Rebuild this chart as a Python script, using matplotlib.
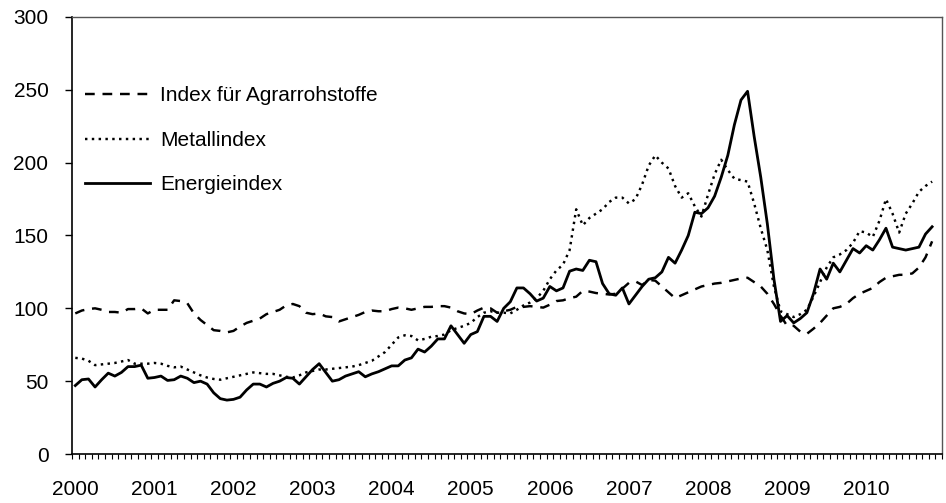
import numpy as np
import matplotlib
matplotlib.use("Agg")
import matplotlib.pyplot as plt

plt.rcParams['font.family'] = ['Liberation Sans', 'DejaVu Sans']

# Monatswerte Jan 2000 - Nov 2010
years = ['2000', '2001', '2002', '2003', '2004', '2005', '2006', '2007', '2008', '2009', '2010']

agrar = [96.5, 98.5, 99.5, 100, 99, 97.5, 97.5, 97, 99.5, 99.5, 100, 96.5,
         99, 99, 99, 105.5, 105, 103.5, 96.5, 92, 88.5, 85, 84.5, 83.5,
         84.5, 87.5, 90, 91.5, 93, 96, 97.5, 99, 102, 103, 101.5, 97,
         96, 96.5, 94.5, 94, 91, 92.5, 94, 95.5, 97.5, 98.5, 98, 98,
         99.5, 100.5, 100, 99, 100, 101, 101, 101.5, 101.5, 100.5, 98, 96.5,
         96, 98.5, 100.5, 100, 97, 98, 99, 101, 101, 101.5, 101, 100.5,
         102.5, 105, 105.5, 107, 108, 112, 111.5, 110.5, 110, 109.5, 110, 113.5,
         117.5, 118.5, 116, 119.5, 119, 115, 111, 107, 109, 111, 113, 115,
         116, 117, 117.5, 118.5, 119.5, 120.5, 121, 118, 115, 110, 103, 95,
         88, 88, 84, 82.5, 86, 90, 95, 100, 101, 103, 107, 110,
         112, 114, 118, 121, 122, 123, 123, 124, 128, 135, 146]

metall = [66, 65.5, 64, 61, 61.5, 62, 62.5, 63.5, 64.5, 62, 62, 62,
          62.5, 62, 60.5, 59.5, 60, 58, 56, 54, 52.5, 51.5, 51, 52,
          53, 54, 55, 56, 55.5, 55, 55, 54, 53, 52.5, 54, 56,
          57, 58, 58, 58.5, 59, 59.5, 60, 61, 62.5, 64, 67, 70,
          75, 80, 81.5, 81, 78, 79, 80.5, 81, 82, 85, 86.5, 88,
          90, 94, 97, 98, 97, 97, 96.5, 99, 102, 104, 107, 112,
          120, 126, 130, 140, 168, 157, 162, 165, 168, 173, 176, 176,
          172, 175, 185, 198, 205, 200, 196, 184, 176, 179, 170, 163,
          178, 192, 202, 195, 189, 188, 187, 172, 155, 140, 115, 98,
          96, 94, 96, 99, 108, 118, 128, 135, 137, 140, 145, 153,
          152, 149, 160, 175, 165, 152, 165, 172, 180, 184, 187]

energie = [47, 51, 51.5, 46, 51, 55.5, 53.5, 56, 60, 60, 61, 52,
           52.5, 53.5, 50.5, 51, 53.5, 52, 49, 50, 48, 42, 38, 37,
           37.5, 39, 44, 48, 48, 46, 48.5, 50, 52.5, 52, 48, 53,
           58, 62, 56, 50, 51, 53.5, 55, 56.5, 53, 55, 56.5, 58.5,
           60.5, 60.5, 64.5, 66, 72, 70, 74, 79, 79, 88, 82, 76,
           82, 84, 94.5, 94.5, 91, 100, 104.5, 114, 114, 110, 105, 107,
           115, 112, 114, 125.5, 127, 126, 133, 132, 117, 110, 109, 114,
           103, 109, 115, 120, 121, 125, 135, 131, 140, 150, 166, 165,
           169, 177, 190, 205, 226, 243, 249, 218, 190, 158, 120, 91,
           95, 90, 93, 97, 110, 127, 120, 131, 125, 133, 141, 138,
           143, 140, 147, 155, 142, 141, 140, 141, 142, 151, 156]

x = np.arange(len(agrar))
n_cat = 132

fig = plt.figure(figsize=(9.46, 5.03), dpi=100)
ax = fig.add_axes([72/946, 49/503, 870/946, 437/503])

ax.plot(x, agrar, color='black', lw=1.75, linestyle=(0, (4, 3.2)), label='Index für Agrarrohstoffe')
ax.plot(x, metall, color='black', lw=1.75, linestyle=(0, (1, 1.8)), label='Metallindex')
ax.plot(x, energie, color='black', lw=2.0, linestyle='-', label='Energieindex')

ax.set_xlim(-0.5, n_cat - 0.5)
ax.set_ylim(0, 300)
ax.set_yticks(np.arange(0, 301, 50))

ax.set_xticks(np.arange(0, 12 * len(years), 12))
ax.set_xticklabels(years)
ax.set_xticks(np.arange(n_cat + 1) - 0.5, minor=True)

ax.tick_params(axis='x', which='major', length=0, pad=19, labelsize=15)
ax.tick_params(axis='x', which='minor', length=3.5, width=0.8, direction='out')
ax.tick_params(axis='y', which='major', length=5, width=1, direction='out', pad=12, labelsize=15)

for side in ['left', 'bottom']:
    ax.spines[side].set_linewidth(1.2)
    ax.spines[side].set_color('black')
for side in ['top', 'right']:
    ax.spines[side].set_linewidth(1.0)
    ax.spines[side].set_color('#555555')

ax.legend(loc='upper left', bbox_to_anchor=(0.0149, 0.841), frameon=False, fontsize=15,
          handlelength=3.1, handletextpad=0.5, labelspacing=1.22, borderpad=0, borderaxespad=0)

fig.savefig('out.png', dpi=100)
